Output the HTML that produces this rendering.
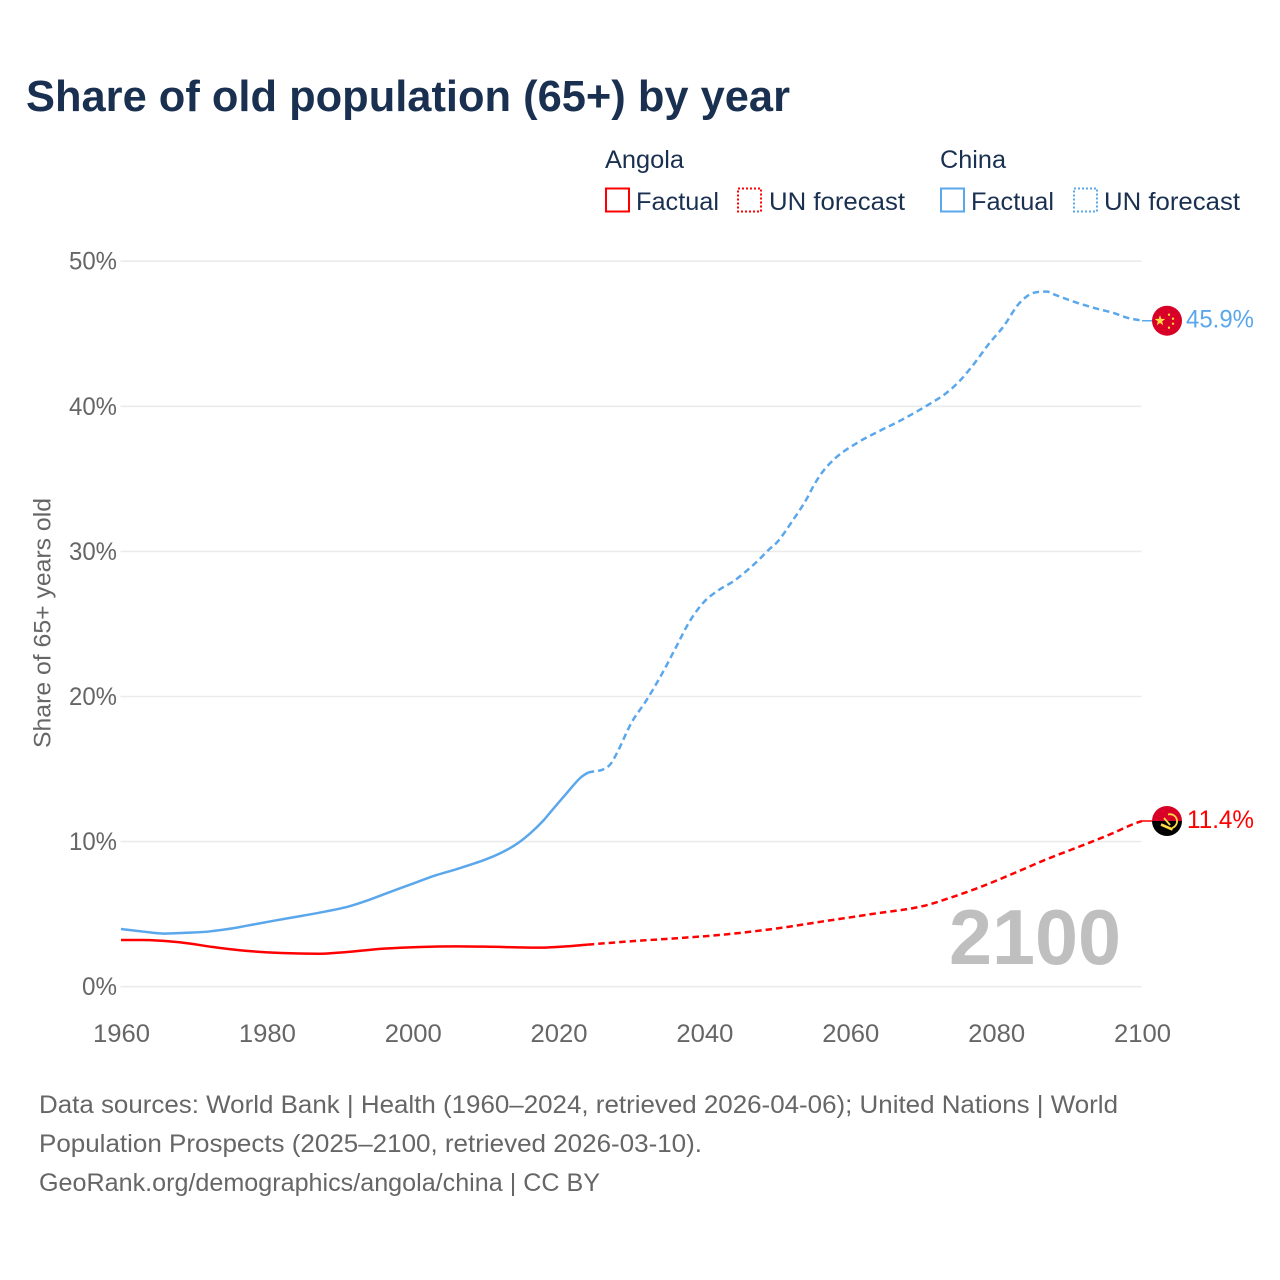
<!DOCTYPE html>
<html lang="en">
<head>
<meta charset="utf-8">
<title>Share of old population (65+) by year</title>
<style>
html,body{margin:0;padding:0;background:#fff;}
svg{display:block;font-family:"Liberation Sans",sans-serif;}
</style>
</head>
<body>
<svg id="chart" xmlns="http://www.w3.org/2000/svg" width="1280" height="1280" viewBox="0 0 1280 1280">
  <rect width="1280" height="1280" fill="#ffffff"/>
  <text x="26" y="111" font-size="44" font-weight="700" fill="#1a3050" textLength="764" lengthAdjust="spacingAndGlyphs">Share of old population (65+) by year</text>

  <g font-size="25" fill="#1a3050">
    <text x="605" y="168" textLength="79" lengthAdjust="spacingAndGlyphs">Angola</text>
    <text x="940" y="168" textLength="66" lengthAdjust="spacingAndGlyphs">China</text>
    <rect x="606" y="188.500" width="23" height="23" fill="none" stroke="#ff0000" stroke-width="2"/>
    <text x="636" y="210" textLength="83" lengthAdjust="spacingAndGlyphs">Factual</text>
    <rect x="738" y="188.500" width="23" height="23" fill="none" stroke="#ff0000" stroke-width="2" stroke-dasharray="2 2"/>
    <text x="769" y="210" textLength="136" lengthAdjust="spacingAndGlyphs">UN forecast</text>
    <rect x="941" y="188.500" width="23" height="23" fill="none" stroke="#5ba7ec" stroke-width="2"/>
    <text x="971" y="210" textLength="83" lengthAdjust="spacingAndGlyphs">Factual</text>
    <rect x="1074" y="188.500" width="23" height="23" fill="none" stroke="#5ba7ec" stroke-width="2" stroke-dasharray="2 2"/>
    <text x="1104" y="210" textLength="136" lengthAdjust="spacingAndGlyphs">UN forecast</text>
  </g>

  <g id="grid"></g>
  <g id="yticks"></g>
  <g id="xticks"></g>
  <text transform="translate(50.500,748) rotate(-90)" font-size="24" fill="#666666" textLength="250" lengthAdjust="spacingAndGlyphs">Share of 65+ years old</text>

  <text x="949" y="964" font-size="78" font-weight="700" fill="#bfbfbf" textLength="172" lengthAdjust="spacingAndGlyphs">2100</text>

  <g id="series"></g>
  <g id="ends"></g>

  <g font-size="25" fill="#666666">
    <text x="39" y="1113" textLength="1079" lengthAdjust="spacingAndGlyphs">Data sources: World Bank | Health (1960–2024, retrieved 2026-04-06); United Nations | World</text>
    <text x="39" y="1152" textLength="663" lengthAdjust="spacingAndGlyphs">Population Prospects (2025–2100, retrieved 2026-03-10).</text>
    <text x="39" y="1191" textLength="561" lengthAdjust="spacingAndGlyphs">GeoRank.org/demographics/angola/china | CC BY</text>
  </g>
</svg>
<script>
const yTickValues = [0, 10, 20, 30, 40, 50];
const xTickValues = [1960, 1980, 2000, 2020, 2040, 2060, 2080, 2100];

const chinaFactualYears = [1960,1963,1966,1969,1972,1975,1977,1981,1985,1988,1991,1994,1997,2000,2003,2006,2010,2012,2014,2016,2018,2019,2021,2023,2024];
const chinaFactualValues = [3.98,3.80,3.66,3.72,3.80,4.00,4.18,4.55,4.90,5.18,5.50,5.98,6.55,7.10,7.65,8.10,8.77,9.20,9.75,10.52,11.50,12.10,13.27,14.40,14.75];

const chinaForecastYears = [2024,2027,2028,2030,2032,2034,2036,2038,2040,2042,2044,2047,2049,2050,2052,2054,2055,2056,2058,2061,2064,2067,2071,2073,2075,2077,2079,2081,2083,2084,2085,2087,2088,2091,2094,2096,2098,2100];
const chinaForecastValues = [14.75,15.27,16.10,18.20,19.70,21.40,23.30,25.20,26.55,27.35,27.95,29.20,30.20,30.65,32.05,33.60,34.55,35.35,36.45,37.50,38.30,39.05,40.20,40.85,41.75,42.95,44.30,45.50,47.00,47.50,47.80,47.90,47.70,47.15,46.70,46.45,46.10,45.90];

const angolaFactualYears = [1960,1963,1968,1973,1977,1982,1987,1991,1996,2001,2006,2010,2017,2021,2024];
const angolaFactualValues = [3.22,3.22,3.06,2.71,2.48,2.32,2.27,2.39,2.62,2.74,2.78,2.76,2.69,2.78,2.90];

const angolaForecastYears = [2024,2031,2036,2043,2050,2056,2063,2070,2074,2078,2083,2087,2092,2096,2099,2100];
const angolaForecastValues = [2.90,3.17,3.33,3.61,4.02,4.48,5.01,5.56,6.18,6.90,7.94,8.80,9.77,10.58,11.25,11.42];

const endLabels = ['45.9%', '11.4%'];

const NS = 'http://www.w3.org/2000/svg';
function xScale(year) { return 121 + (year - 1960) * (1142 - 121) / 140; }
function yScale(value) { return 986.7 - value * 14.51; }

function make(tag, attrs, parent) {
  const el = document.createElementNS(NS, tag);
  for (const k in attrs) el.setAttribute(k, attrs[k]);
  parent.appendChild(el);
  return el;
}

function curvePath(years, values) {
  const px = years.map(xScale), py = values.map(yScale), n = px.length;
  const slope = [], tan = [];
  for (let i = 0; i < n - 1; i++) slope.push((py[i + 1] - py[i]) / (px[i + 1] - px[i]));
  tan[0] = slope[0];
  tan[n - 1] = slope[n - 2];
  for (let i = 1; i < n - 1; i++) {
    tan[i] = slope[i - 1] * slope[i] <= 0 ? 0 : (slope[i - 1] + slope[i]) / 2;
  }
  let d = 'M' + px[0].toFixed(2) + ' ' + py[0].toFixed(2);
  for (let i = 0; i < n - 1; i++) {
    const h = (px[i + 1] - px[i]) / 3;
    d += ' C' + (px[i] + h).toFixed(2) + ' ' + (py[i] + tan[i] * h).toFixed(2) +
         ' ' + (px[i + 1] - h).toFixed(2) + ' ' + (py[i + 1] - tan[i + 1] * h).toFixed(2) +
         ' ' + px[i + 1].toFixed(2) + ' ' + py[i + 1].toFixed(2);
  }
  return d;
}

const grid = document.getElementById('grid');
const yticks = document.getElementById('yticks');
const xticks = document.getElementById('xticks');
const seriesGroup = document.getElementById('series');
const ends = document.getElementById('ends');

yTickValues.forEach(function (v) {
  const line = make('line', {x1: 120.5, x2: 1141.5, y1: yScale(v), y2: yScale(v), stroke: '#ebebeb', 'stroke-width': 1.6}, grid);
  
  
  const t = make('text', {x: 117, y: yScale(v) + 8.5, 'text-anchor': 'end', 'font-size': 25, fill: '#666666', textLength: v === 0 ? 35 : 48, lengthAdjust: 'spacingAndGlyphs'}, yticks);
  t.textContent = v + '%';
  
  
});

xTickValues.forEach(function (yr) {
  const t = make('text', {x: xScale(yr) + 0.5, y: 1042, 'text-anchor': 'middle', 'font-size': 25, fill: '#666666', textLength: 57, lengthAdjust: 'spacingAndGlyphs'}, xticks);
  t.textContent = yr;
  
  
});

const angolaFactualLine = make('path', {d: curvePath(angolaFactualYears, angolaFactualValues), fill: 'none', stroke: '#ff0000', 'stroke-width': 2.5}, seriesGroup);



const angolaForecastLine = make('path', {d: curvePath(angolaForecastYears, angolaForecastValues), fill: 'none', stroke: '#ff0000', 'stroke-width': 2.5, 'stroke-dasharray': '6.5 4'}, seriesGroup);



const chinaFactualLine = make('path', {d: curvePath(chinaFactualYears, chinaFactualValues), fill: 'none', stroke: '#5ba7ec', 'stroke-width': 2.5}, seriesGroup);



const chinaForecastLine = make('path', {d: curvePath(chinaForecastYears, chinaForecastValues), fill: 'none', stroke: '#5ba7ec', 'stroke-width': 2.5, 'stroke-dasharray': '6.5 4'}, seriesGroup);



const flagX = xScale(2100) + 25;
const chinaEndY = yScale(chinaForecastValues[chinaForecastValues.length - 1]);
const angolaEndY = yScale(angolaForecastValues[angolaForecastValues.length - 1]);

const chinaConnector = make('line', {x1: xScale(2100), x2: flagX, y1: chinaEndY, y2: chinaEndY, stroke: '#5ba7ec', 'stroke-width': 1.5}, ends);



const angolaConnector = make('line', {x1: xScale(2100), x2: flagX, y1: angolaEndY, y2: angolaEndY, stroke: '#ff0000', 'stroke-width': 1.5}, ends);



/* China flag */
const chinaFlag = make('g', {transform: 'translate(' + flagX + ',' + chinaEndY + ')'}, ends);


make('circle', {r: 15, fill: '#d80027'}, chinaFlag);
make('polygon', {points: '-7,-5.5 -5.6,-1.8 -1.8,-1.7 -4.8,0.7 -3.8,4.5 -7,2.3 -10.2,4.5 -9.2,0.7 -12.2,-1.7 -8.4,-1.8', fill: '#ffda44'}, chinaFlag);
make('circle', {cx: 2, cy: -6, r: 1.2, fill: '#ffda44'}, chinaFlag);
make('circle', {cx: 6, cy: -2, r: 1.2, fill: '#ffda44'}, chinaFlag);
make('circle', {cx: 6, cy: 3, r: 1.2, fill: '#ffda44'}, chinaFlag);
make('circle', {cx: 2, cy: 7, r: 1.2, fill: '#ffda44'}, chinaFlag);

/* Angola flag */
const angolaFlag = make('g', {transform: 'translate(' + flagX + ',' + angolaEndY + ')'}, ends);


make('path', {d: 'M-15 0A15 15 0 0 1 15 0Z', fill: '#d80027'}, angolaFlag);
make('path', {d: 'M-15 0A15 15 0 0 0 15 0Z', fill: '#000000'}, angolaFlag);
make('path', {d: 'M1,-6.500 A7,7 0 0 1 5,7', fill: 'none', stroke: '#ffda44', 'stroke-width': 1.800}, angolaFlag);
make('path', {d: 'M-6,3.500 L5.500,8.500', fill: 'none', stroke: '#ffda44', 'stroke-width': 2.600}, angolaFlag);
make('path', {d: 'M-3,-3 L3,4', fill: 'none', stroke: '#ffda44', 'stroke-width': 1.800}, angolaFlag);

const chinaEndLabel = make('text', {x: flagX + 19, y: chinaEndY + 7, 'font-size': 25, fill: '#5ba7ec', textLength: 68, lengthAdjust: 'spacingAndGlyphs'}, ends);
chinaEndLabel.textContent = endLabels[0];



const angolaEndLabel = make('text', {x: flagX + 20, y: angolaEndY + 7, 'font-size': 25, fill: '#ff0000', textLength: 67, lengthAdjust: 'spacingAndGlyphs'}, ends);
angolaEndLabel.textContent = endLabels[1];


</script>
</body>
</html>
